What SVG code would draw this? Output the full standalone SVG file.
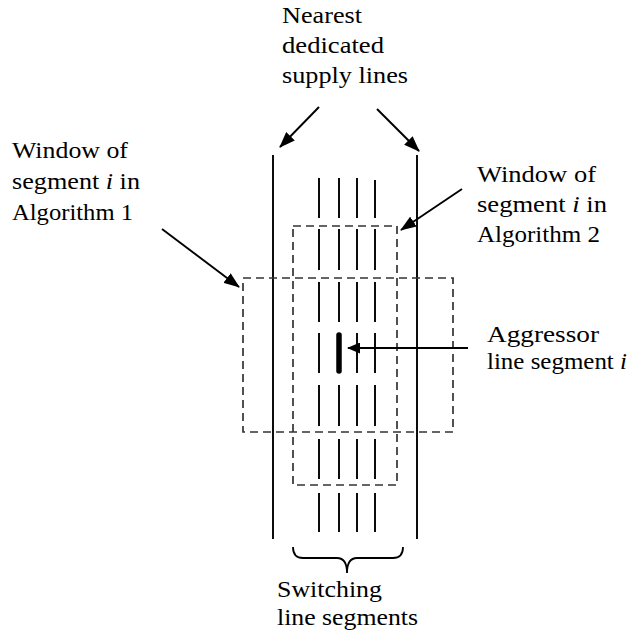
<svg xmlns="http://www.w3.org/2000/svg" width="635" height="638" viewBox="0 0 635 638">
<style>
text{font-family:"Liberation Serif","Times New Roman",serif;font-size:22.5px;fill:#000}
.sup{stroke:#000;stroke-width:1.9;fill:none}
.seg{stroke:#000;stroke-width:1.9;fill:none}
.win{stroke:#333;stroke-width:1.7;fill:none;stroke-dasharray:8,5}
.arr{stroke:#000;stroke-width:1.9;fill:none;marker-end:url(#ah)}
.arr2{stroke:#000;stroke-width:1.9;fill:none;marker-end:url(#ah2)}
</style>
<defs>
<marker id="ah" viewBox="0 0 16 12" refX="15" refY="6" markerWidth="16" markerHeight="12" markerUnits="userSpaceOnUse" orient="auto">
<path d="M0,0 L16,6 L0,12 Z" fill="#000"/>
</marker>
<marker id="ah2" viewBox="0 0 13 11" refX="12" refY="5.5" markerWidth="13" markerHeight="11" markerUnits="userSpaceOnUse" orient="auto">
<path d="M0,0 L13,5.5 L0,11 Z" fill="#000"/>
</marker>
</defs>
<rect width="635" height="638" fill="#fff"/>
<g id="supply-lines">
<line class="sup" x1="273" y1="155" x2="273" y2="539"/>
<line class="sup" x1="417" y1="155" x2="417" y2="539"/>
</g>
<g id="switching-segments">
<path class="seg" d="M319,178V218M339,178V218M357,178V218M375,180V218
M319,229V270M339,229V270M357,229V270M375,229V270
M319,282V322M339,282V322M357,282V322M375,282V322
M319,333V373M357,333V373M375,333V373
M319,385V426M339,385V426M357,385V426M375,385V426
M319,439V479M339,439V479M357,439V479M375,439V479
M319,493V532M339,493V532M357,493V532M375,493V532"/>
</g>
<g id="aggressor-segment">
<line x1="339" y1="335" x2="339" y2="371" stroke="#000" stroke-width="5.5" stroke-linecap="round"/>
</g>
<g id="window-alg2">
<rect class="win" x="293" y="226" width="104" height="259"/>
</g>
<g id="window-alg1">
<rect class="win" x="243" y="278" width="210" height="154"/>
</g>
<g id="brace">
<path d="M293,547 Q293,558 303,558 L337,558 Q347,558 347,573 Q347,558 357,558 L393,558 Q403,558 403,547" stroke="#000" stroke-width="1.8" fill="none"/>
</g>
<g id="connectors">
<line class="arr" x1="319" y1="107" x2="280" y2="147"/>
<line class="arr" x1="377" y1="109" x2="419" y2="151"/>
<line class="arr" x1="162" y1="229" x2="239" y2="287"/>
<line class="arr" x1="462" y1="189" x2="401" y2="230"/>
<line class="arr2" x1="468" y1="348" x2="348" y2="348"/>
</g>
<g id="label-supply">
<text x="282" y="23" textLength="80" lengthAdjust="spacingAndGlyphs">Nearest</text>
<text x="282" y="53" textLength="102" lengthAdjust="spacingAndGlyphs">dedicated</text>
<text x="282" y="83" textLength="126" lengthAdjust="spacingAndGlyphs">supply lines</text>
</g>
<g id="label-alg1">
<text x="12" y="158" textLength="116" lengthAdjust="spacingAndGlyphs">Window of</text>
<text x="12" y="189" textLength="128" lengthAdjust="spacingAndGlyphs">segment <tspan font-style="italic">i</tspan> in</text>
<text x="12" y="220" textLength="121" lengthAdjust="spacingAndGlyphs">Algorithm 1</text>
</g>
<g id="label-alg2">
<text x="477" y="182" textLength="119" lengthAdjust="spacingAndGlyphs">Window of</text>
<text x="477" y="212" textLength="130" lengthAdjust="spacingAndGlyphs">segment <tspan font-style="italic">i</tspan> in</text>
<text x="477" y="242" textLength="123" lengthAdjust="spacingAndGlyphs">Algorithm 2</text>
</g>
<g id="label-aggressor">
<text x="487" y="342" textLength="112" lengthAdjust="spacingAndGlyphs">Aggressor</text>
<text x="487" y="369" textLength="140" lengthAdjust="spacingAndGlyphs">line segment <tspan font-style="italic">i</tspan></text>
</g>
<g id="label-switching">
<text x="277" y="597" textLength="105" lengthAdjust="spacingAndGlyphs">Switching</text>
<text x="277" y="625" textLength="141" lengthAdjust="spacingAndGlyphs">line segments</text>
</g>
</svg>
